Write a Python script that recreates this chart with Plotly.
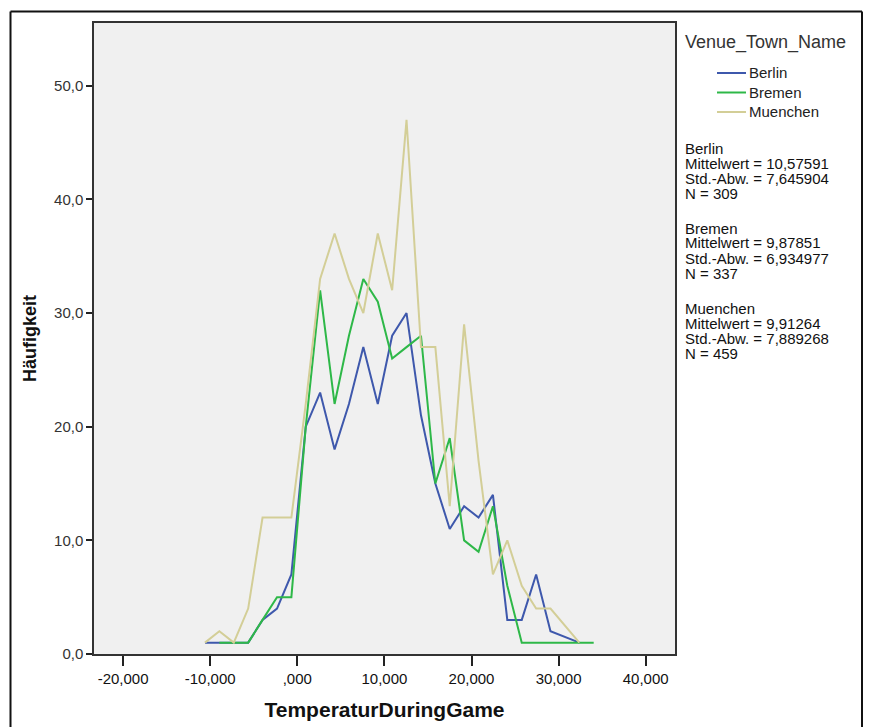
import plotly.graph_objects as go

# ---------------- data ----------------
temperature = [-10.60, -8.95, -7.29, -5.64, -3.99, -2.33, -0.68, 0.97, 2.62, 4.28,
               5.93, 7.58, 9.24, 10.89, 12.54, 14.20, 15.85, 17.50, 19.15, 20.81,
               22.46, 24.11, 25.77, 27.42, 29.07, 30.73, 32.38, 34.03]
berlin = [1, 1, 1, 1, 3, 4, 7, 20, 23, 18, 22, 27, 22, 28, 30, 21, 15, 11, 13, 12,
          14, 3, 3, 7, 2, None, 1, None]
bremen = [None, 1, 1, 1, 3, 5, 5, 20, 32, 22, 28, 33, 31, 26, 27, 28, 15, 19, 10, 9,
          13, 6, 1, None, None, None, None, 1]
muenchen = [1, 2, 1, 4, 12, 12, 12, 22, 33, 37, 33, 30, 37, 32, 47, 27, 27, 13, 29, 17,
            7, 10, 6, 4, 4, None, 1, None]

series_names = ["Berlin", "Bremen", "Muenchen"]
series_colors = ["#3E58AC", "#2EB848", "#D3CE97"]
stat_means = ["10,57591", "9,87851", "9,91264"]
stat_stds = ["7,645904", "6,934977", "7,889268"]
stat_ns = ["309", "337", "459"]
legend_title = "Venue_Town_Name"

x_tickvals = [-20, -10, 0, 10, 20, 30, 40]
x_ticktext = ["-20,000", "-10,000", ",000", "10,000", "20,000", "30,000", "40,000"]
y_tickvals = [0, 10, 20, 30, 40, 50]
y_ticktext = ["0,0", "10,0", "20,0", "30,0", "40,0", "50,0"]

# ---------------- layout geometry (pixels) ----------------
W, H = 874, 727
L, R, T, B = 94, 675, 23, 654
PW, PH = R - L, B - T


def px_x(p):
    return (p - L) / PW


def px_y(p):
    return (B - p) / PH


FONT = "Arial, Liberation Sans, sans-serif"

fig = go.Figure()
for name, vals, col in zip(series_names, [berlin, bremen, muenchen], series_colors):
    fig.add_trace(go.Scatter(x=temperature, y=vals, mode="lines", name=name,
                             line=dict(color=col, width=2), connectgaps=True,
                             showlegend=False))

fig.update_layout(
    width=W, height=H,
    margin=dict(l=L, r=W - R, t=T, b=H - B, pad=0, autoexpand=False),
    paper_bgcolor="white",
    plot_bgcolor="#F0F0F0",
    font=dict(family=FONT, size=15, color="#222222"),
    xaxis=dict(range=[(L - 297.3) / 8.71, (R - 297.3) / 8.71],
               tickvals=x_tickvals, ticktext=x_ticktext, automargin=False,
               ticks="outside", ticklen=10, tickwidth=1.5, tickcolor="#222222",
               showline=True, linecolor="#333333", linewidth=1.5, mirror=True,
               showgrid=False, zeroline=False,
               tickfont=dict(size=15, color="#111111"),
               title=dict(text="<b>TemperaturDuringGame</b>", standoff=17,
                          font=dict(size=21, color="#111111"))),
    yaxis=dict(range=[0, (B - T) / 11.366],
               tickvals=y_tickvals, ticktext=y_ticktext, automargin=False,
               ticks="outside", ticklen=6, tickwidth=1.5, tickcolor="#222222",
               showline=True, linecolor="#333333", linewidth=1.5, mirror=True,
               showgrid=False, zeroline=False,
               tickfont=dict(size=15, color="#333333"),
               title=dict(text="<b>Häufigkeit</b>", standoff=13,
                          font=dict(size=18, color="#111111"))),
)

annotations = [dict(text=legend_title, x=px_x(683), y=px_y(43), xref="paper",
                    yref="paper", xanchor="left", yanchor="middle", showarrow=False,
                    font=dict(size=18, color="#333333"))]
shapes = []
legend_rows = [73, 92.5, 112]
for name, col, yy in zip(series_names, series_colors, legend_rows):
    shapes.append(dict(type="line", xref="paper", yref="paper", x0=px_x(717),
                       x1=px_x(746), y0=px_y(yy), y1=px_y(yy),
                       line=dict(color=col, width=2)))
    annotations.append(dict(text=name, x=px_x(747), y=px_y(yy), xref="paper",
                            yref="paper", xanchor="left", yanchor="middle",
                            showarrow=False, font=dict(size=15, color="#222222")))

group_tops = [148, 228, 308]
for i, name in enumerate(series_names):
    lines = [name, "Mittelwert = " + stat_means[i], "Std.-Abw. = " + stat_stds[i],
             "N = " + stat_ns[i]]
    for j, txt in enumerate(lines):
        annotations.append(dict(text=txt, x=px_x(683), y=px_y(group_tops[i] + 15 * j),
                                xref="paper", yref="paper", xanchor="left",
                                yanchor="middle", showarrow=False,
                                font=dict(size=15, color="#111111")))

# outer chart border
border = dict(color="#111111", width=2)
shapes.append(dict(type="line", xref="paper", yref="paper", x0=px_x(10.5), x1=px_x(862),
                   y0=px_y(11.5), y1=px_y(11.5), line=border))
shapes.append(dict(type="line", xref="paper", yref="paper", x0=px_x(10.5), x1=px_x(10.5),
                   y0=px_y(11.5), y1=px_y(740), line=border))
shapes.append(dict(type="line", xref="paper", yref="paper", x0=px_x(862), x1=px_x(862),
                   y0=px_y(11.5), y1=px_y(740), line=border))

fig.update_layout(annotations=annotations, shapes=shapes)

fig.write_html("out.html")
